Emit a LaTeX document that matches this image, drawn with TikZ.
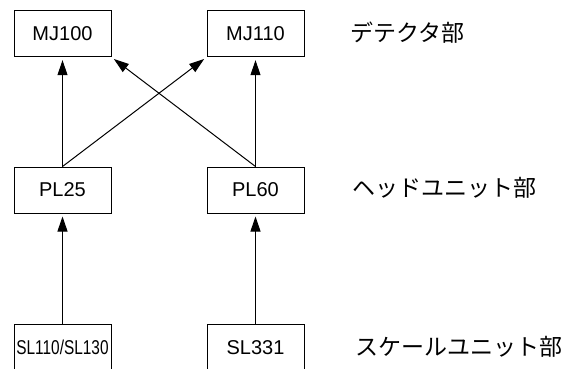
\documentclass[tikz,border=0pt]{standalone}
\usepackage{fontspec}
\usepackage{graphicx}
\setmainfont{Liberation Sans}
\newfontfamily\jpfont{Noto Sans CJK JP}
\usetikzlibrary{arrows.meta}
\begin{document}
\begin{tikzpicture}[x=1pt,y=-1pt,
  unitbox/.style={draw,line width=1pt,inner sep=0pt,minimum width=97pt,minimum height=46pt,font=\fontsize{20}{24}\selectfont},
  lbl/.style={anchor=west,inner sep=0pt,font=\jpfont\fontsize{23}{26}\selectfont},
  conn/.style={line width=1pt,-{Triangle[length=15pt,width=10pt]},shorten >=3pt}]
\useasboundingbox (0,0) rectangle (565,369);
\clip (0,0) rectangle (565,369);
\node[unitbox] (mj100) at (62.5,33.7) {MJ100};
\node[unitbox] (mj110) at (255.5,33.7) {MJ110};
\node[unitbox] (pl25) at (62.5,190) {PL25};
\node[unitbox] (pl60) at (255.5,190) {PL60};
\node[unitbox] (sl1) at (62.5,347.5) {\scalebox{0.77}[1]{SL110/SL130}};
\node[unitbox] (sl2) at (255.5,347.5) {SL331};
\node[lbl] (l1) at (350,33) {デテクタ部};
\node[lbl] (l2) at (352,188) {ヘッドユニット部};
\node[lbl] (l3) at (355,347) {スケールユニット部};
\draw[conn] (pl25.north) -- (mj100.south);
\draw[conn] (pl25.north) -- (mj110.south west);
\draw[conn] (pl60.north) -- (mj100.south east);
\draw[conn] (pl60.north) -- (mj110.south);
\draw[conn] (sl1.north) -- (pl25.south);
\draw[conn] (sl2.north) -- (pl60.south);
\end{tikzpicture}
\end{document}
